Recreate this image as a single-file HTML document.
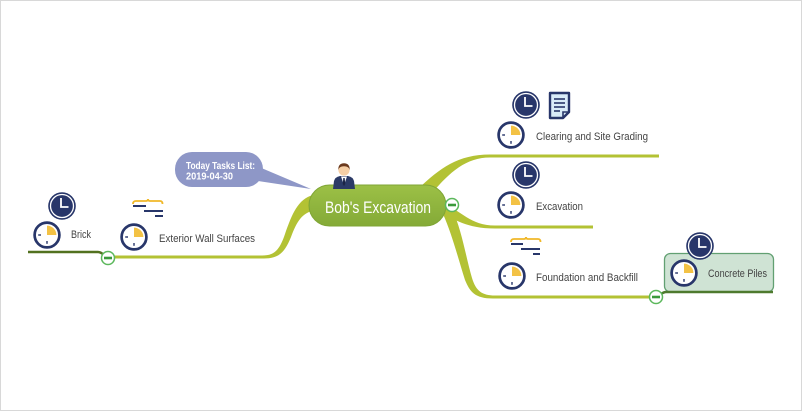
<!DOCTYPE html>
<html>
<head>
<meta charset="utf-8">
<style>
html,body{margin:0;padding:0;background:#fff;}
.wrap{width:802px;height:411px;position:relative;overflow:hidden;box-sizing:border-box;border:1px solid #d8d8d8;background:#fff;}
svg{position:absolute;left:-1px;top:-1px;}
text{font-family:"Liberation Sans",Arial,sans-serif;}
</style>
</head>
<body>
<div class="wrap">
<svg width="802" height="411" viewBox="0 0 802 411" xmlns="http://www.w3.org/2000/svg">
  <defs>
    <linearGradient id="pill" x1="0" y1="0" x2="0" y2="1">
      <stop offset="0" stop-color="#9cc046"/>
      <stop offset="1" stop-color="#84aa37"/>
    </linearGradient>
    <g id="pie">
      <circle r="12.4" fill="#fff" stroke="#28366a" stroke-width="2.7"/>
      <path d="M0 0 V-9.4 A9.4 9.4 0 0 1 9.4 0 Z" fill="#f3c245"/>
      <line x1="-8.8" y1="0" x2="-6" y2="0" stroke="#28366a" stroke-width="1.4"/>
      <line x1="0" y1="6" x2="0" y2="8.8" stroke="#28366a" stroke-width="1.4"/>
    </g>
    <g id="clk">
      <circle r="13.8" fill="#28366a"/>
      <circle r="11.5" fill="none" stroke="#fff" stroke-width="1.3"/>
      <path d="M-1 -8 V1 H6.5" stroke="#fff" stroke-width="1.8" fill="none"/>
    </g>
    <g id="col">
      <circle r="6.5" fill="#fff" stroke="#5cb85c" stroke-width="1.5"/>
      <rect x="-4" y="-1.3" width="8" height="2.6" fill="#3a9a3a"/>
    </g>
  </defs>

  <!-- Left branch -->
  <path d="M313 195 C298 199 292 214 285 234 C279 252 273 255.5 262 255.5 L111 255.5 L111 258.5 L264 258.5 C279 258.5 285 252 291 237 C297 221 302 213 315 210 Z" fill="#b3c234"/>
  <!-- Brick line -->
  <path d="M28 252 L98 252 C103 252 104 257 108 257" stroke="#52711f" stroke-width="2.5" fill="none"/>

  <!-- Clearing branch -->
  <path d="M418 189 C440 168 458 154.5 490 154.5 L659 154.5 L659 157.5 L490 157.5 C466 157.5 450 172 432 193 Z" fill="#b3c234"/>
  <!-- Excavation branch -->
  <path d="M444 204 C462 211 470 225.5 495 225.5 L593 225.5 L593 228.5 L495 228.5 C466 228.5 455 219 440 213 Z" fill="#b3c234"/>
  <!-- Foundation branch -->
  <path d="M452 209 C462 230 466 258 472 278 C476 291 482 295.5 495 295.5 L656 295.5 L656 298.5 L493 298.5 C475 298.5 470 292 465 280 C458 258 452 234 443 214 Z" fill="#b3c234"/>

  <!-- Concrete piles box -->
  <rect x="664.5" y="253.5" width="109" height="38.5" rx="6" fill="#cfe3d4" stroke="#62a072" stroke-width="1.3"/>
  <path d="M656 296 C660 296 662 292 666 292 L773 292" stroke="#4e7a2e" stroke-width="2.5" fill="none"/>

  <!-- Callout -->
  <path d="M252 164 L311 189 L258 181 Z" fill="#8e97c7"/>
  <rect x="175" y="152" width="88" height="35" rx="17" fill="#8e97c7"/>
  <text x="186" y="169" font-size="10.5" font-weight="bold" fill="#fff" textLength="69" lengthAdjust="spacingAndGlyphs">Today Tasks List:</text>
  <text x="186" y="179.5" font-size="10.5" font-weight="bold" fill="#fff" textLength="47" lengthAdjust="spacingAndGlyphs">2019-04-30</text>

  <!-- Central node -->
  <rect x="309" y="185" width="137" height="41" rx="20.5" fill="url(#pill)" stroke="#7fa535" stroke-width="1"/>
  <text x="325" y="213" font-size="17" fill="#fff" textLength="106" lengthAdjust="spacingAndGlyphs">Bob's Excavation</text>

  <!-- Person icon -->
  <path d="M333 189 L334 181 Q335 177 340 176 L348 176 Q353 177 354 181 L355 189 Z" fill="#2b3a66"/>
  <path d="M341 176.5 L347 176.5 L344 185 Z" fill="#fff"/>
  <path d="M343.3 178 L344.7 178 L345.2 184 L344 186 L342.8 184 Z" fill="#1b2445"/>
  <circle cx="344" cy="170" r="5.6" fill="#f6cfa5"/>
  <path d="M338.3 170 Q338 163.5 344 163.3 Q350 163.5 349.7 170 Q349 166.5 344 166.3 Q339 166.5 338.3 170 Z" fill="#6b3a1e"/>

  <!-- Collapse buttons -->
  <use href="#col" x="452" y="205"/>
  <use href="#col" x="108" y="258"/>
  <use href="#col" x="656" y="297"/>

  <!-- Clearing and Site Grading -->
  <use href="#clk" x="526" y="105"/>
  <path d="M550 93 H569 V112 L563 118 H550 Z" fill="#d9ebf8" stroke="#28366a" stroke-width="2.4" stroke-linejoin="round"/>
  <path d="M563 118 V112 H569" fill="none" stroke="#28366a" stroke-width="1.6"/>
  <g stroke="#28366a" stroke-width="1.6">
    <line x1="554" y1="99" x2="565" y2="99"/>
    <line x1="554" y1="103" x2="565" y2="103"/>
    <line x1="554" y1="107" x2="565" y2="107"/>
    <line x1="554" y1="111" x2="560" y2="111"/>
  </g>
  <use href="#pie" x="511" y="135"/>
  <text x="536" y="140" font-size="11" fill="#444" textLength="112" lengthAdjust="spacingAndGlyphs">Clearing and Site Grading</text>

  <!-- Excavation -->
  <use href="#clk" x="526" y="175"/>
  <use href="#pie" x="511" y="205"/>
  <text x="536" y="210" font-size="11" fill="#444" textLength="47" lengthAdjust="spacingAndGlyphs">Excavation</text>

  <!-- Foundation and Backfill -->
  <g fill="none">
    <path d="M511 242 Q511 239 514 239 H524 Q526 239 526 237 Q526 239 528 239 H538 Q540.5 239 540.5 242" stroke="#f0b829" stroke-width="1.8"/>
    <g stroke="#28366a" stroke-width="2">
      <line x1="511" y1="244" x2="523" y2="244"/>
      <line x1="521" y1="249" x2="540" y2="249"/>
      <line x1="533" y1="254" x2="540" y2="254"/>
    </g>
  </g>
  <use href="#pie" x="512" y="276"/>
  <text x="536" y="281" font-size="11" fill="#444" textLength="102" lengthAdjust="spacingAndGlyphs">Foundation and Backfill</text>

  <!-- Concrete Piles -->
  <use href="#clk" x="700" y="246"/>
  <use href="#pie" x="684" y="273"/>
  <text x="708" y="277" font-size="11" fill="#444" textLength="59" lengthAdjust="spacingAndGlyphs">Concrete Piles</text>

  <!-- Exterior Wall Surfaces -->
  <g fill="none">
    <path d="M133 204 Q133 201 136 201 H146 Q148 201 148 199 Q148 201 150 201 H160 Q162.5 201 162.5 204" stroke="#f0b829" stroke-width="1.8"/>
    <g stroke="#28366a" stroke-width="2">
      <line x1="133" y1="206" x2="146" y2="206"/>
      <line x1="144" y1="211" x2="163" y2="211"/>
      <line x1="155" y1="216" x2="163" y2="216"/>
    </g>
  </g>
  <use href="#pie" x="134" y="237"/>
  <text x="159" y="242" font-size="11" fill="#444" textLength="96" lengthAdjust="spacingAndGlyphs">Exterior Wall Surfaces</text>

  <!-- Brick -->
  <use href="#clk" x="62" y="206"/>
  <use href="#pie" x="47" y="235"/>
  <text x="71" y="238" font-size="11" fill="#444" textLength="20" lengthAdjust="spacingAndGlyphs">Brick</text>
</svg>
</div>
</body>
</html>
